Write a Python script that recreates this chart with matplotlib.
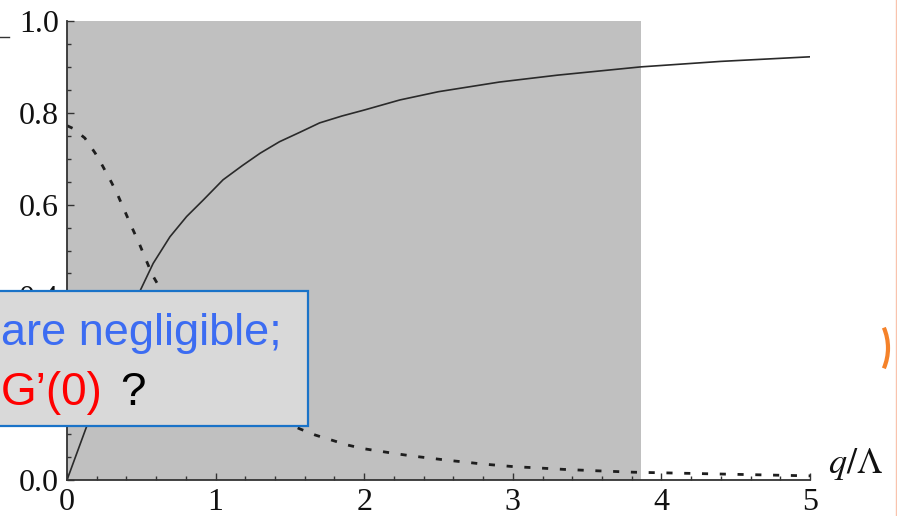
import numpy as np
import matplotlib
matplotlib.use('Agg')
import matplotlib.pyplot as plt
import matplotlib.ticker as ticker
from matplotlib.patches import Rectangle, Arc
from matplotlib.lines import Line2D

plt.rcParams['mathtext.fontset'] = 'stix'

# solid curve
solid_q = [0, 0.128, 0.25, 0.37, 0.496, 0.58, 0.693, 0.805, 0.917, 1.05, 1.18, 1.30,
           1.43, 1.57, 1.70, 1.85, 2.0, 2.24, 2.5, 2.91, 3.3, 3.86, 4.4, 5.0]
solid_val = [0, 0.113, 0.215, 0.315, 0.415, 0.472, 0.530, 0.574, 0.61, 0.654, 0.685,
             0.712, 0.737, 0.758, 0.778, 0.793, 0.806, 0.828, 0.846, 0.867, 0.882,
             0.90, 0.912, 0.922]

# dashed curve
dashed_q = [0, 0.04, 0.12, 0.19, 0.24, 0.30, 0.34, 0.39, 0.44, 0.485, 0.53, 0.574,
            0.626, 0.7, 0.8, 0.9, 1.0, 1.1, 1.2, 1.3, 1.4, 1.5, 1.57, 1.67, 1.78,
            1.89, 2.0, 2.1, 2.22, 2.33, 2.46, 2.56, 2.68, 2.79, 2.90, 3.01, 3.13,
            3.35, 3.57, 3.81, 4.4, 5.0]
dashed_val = [0.772, 0.766, 0.745, 0.712, 0.684, 0.648, 0.622, 0.585, 0.548, 0.516,
              0.481, 0.447, 0.418, 0.372, 0.318, 0.272, 0.234, 0.203, 0.178, 0.157,
              0.139, 0.121, 0.111, 0.098, 0.087, 0.076, 0.068, 0.063, 0.057, 0.052,
              0.047, 0.043, 0.039, 0.035, 0.032, 0.029, 0.027, 0.023, 0.020, 0.017,
              0.013, 0.009]

shade_end = 3.86
x_ticks = [0, 1, 2, 3, 4, 5]
y_ticks = [0.0, 0.2, 0.4, 0.6, 0.8, 1.0]

fig = plt.figure(figsize=(8.97, 5.16), dpi=100)
ax = fig.add_axes([67/897, 36/516, (810-67)/897, (480-21)/516])

ax.axvspan(0, shade_end, color='#c0c0c0', zorder=0, lw=0)
ax.plot(solid_q, solid_val, color='#2a2a2a', lw=1.2, zorder=2)
ax.plot(dashed_q, dashed_val, color='#1e1e1e', lw=2.0, dashes=(2.2, 4.2), zorder=2)

ax.set_xlim(0, 5)
ax.set_ylim(0, 1.0)
ax.set_xticks(x_ticks)
ax.set_yticks(y_ticks)
ax.xaxis.set_minor_locator(ticker.MultipleLocator(0.2))
ax.yaxis.set_minor_locator(ticker.MultipleLocator(0.05))
ax.yaxis.set_major_formatter(ticker.FormatStrFormatter('%.1f'))

for s in ['top', 'right']:
    ax.spines[s].set_visible(False)
for s in ['left', 'bottom']:
    ax.spines[s].set_color('#333333')
    ax.spines[s].set_linewidth(1.3)
    ax.spines[s].set_zorder(3)

ax.tick_params(which='major', direction='in', length=5, width=1, colors='#333333',
               labelsize=23, pad=6, labelcolor='#111111')
ax.tick_params(which='minor', direction='in', length=3, width=1, colors='#333333')
for lab in ax.get_xticklabels() + ax.get_yticklabels():
    lab.set_family('Liberation Serif')

ax.text(5.12, 0.015, r'$q/\Lambda$', fontsize=26, color='#111111', ha='left', va='baseline',
        clip_on=False)

# overlay box from the slide
fig.patches.append(Rectangle((-0.01, 90/516), 308/897 + 0.01, 135/516,
                             transform=fig.transFigure, facecolor='#d9d9d9',
                             edgecolor='#1a73c8', lw=1.6, zorder=10))
fig.text(0.001, (516-345)/516, 'are negligible;', color='#3c6cf2', fontsize=32.5,
         family='Liberation Sans', ha='left', va='baseline', zorder=11)
fig.text(0.001, (516-405)/516, 'G\u2019(0)', color='#ff0000', fontsize=33,
         family='Liberation Sans', ha='left', va='baseline', zorder=11)
fig.text(120/897, (516-405)/516, '?', color='#000000', fontsize=33,
         family='Liberation Sans', ha='left', va='baseline', zorder=11)

# slide decorations
fig.add_artist(Line2D([0, 9/897], [1-37/516, 1-37/516], color='#333333', lw=1))
fig.add_artist(Line2D([0.9994, 0.9994], [0, 1], color='#f9c3ad', lw=1))
fig.patches.append(Arc((8.36, 1.68), 1.04, 1.04, theta1=-23, theta2=23,
                       transform=fig.dpi_scale_trans, color='#f5822a', lw=3))

fig.savefig('out.png', dpi=100)
